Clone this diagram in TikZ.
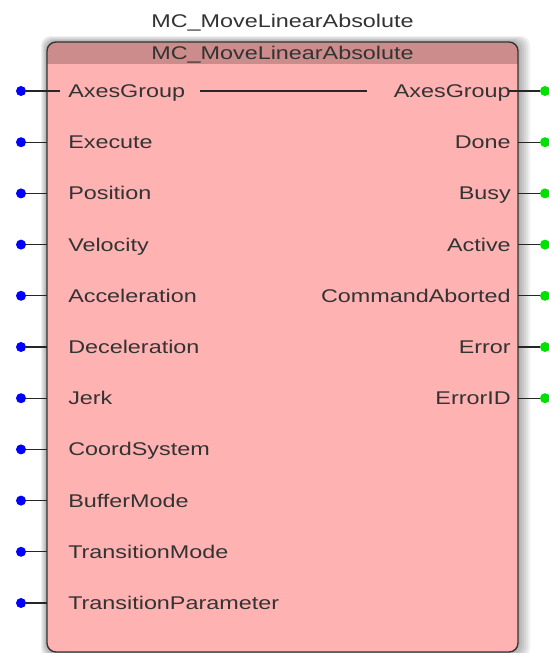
\documentclass[tikz,border=0pt]{standalone}
\usepackage{fontspec}
\setmainfont{Liberation Sans}[FakeStretch=1.27]
\definecolor{fbbody}{RGB}{255,178,178}
\definecolor{fbhead}{RGB}{204,140,140}
\definecolor{pingreen}{RGB}{0,225,0}
\begin{document}
\begin{tikzpicture}[x=0.75pt, y=-0.75pt,
    wire/.style={line width=0.9pt, black!85},
    indot/.style={circle, fill=blue, inner sep=0pt, minimum size=7.5pt},
    outdot/.style={circle, fill=pingreen, inner sep=0pt, minimum size=7.5pt},
    pinlabel/.style={inner sep=0pt, text=black!80, font=\fontsize{13.8}{16}\selectfont}]
    \useasboundingbox (0,0) rectangle (549,653);
    \foreach \k in {1,...,6}
        \fill[black, opacity=0.06, rounded corners=7pt] (47-\k,42-\k) rectangle (518+2*\k,652+\k);
    \begin{scope}
        \clip[rounded corners=6.75pt] (47,42) rectangle (518,652);
        \fill[fbbody] (47,42) rectangle (518,652);
        \fill[fbhead] (47,42) rectangle (518,64);
    \end{scope}
    \draw[line width=1pt, black!80, rounded corners=6.75pt] (47,42) rectangle (518,652);
    \node[pinlabel, anchor=base] (title) at (282.5,27) {MC\_MoveLinearAbsolute};
    \node[pinlabel, anchor=base] (header) at (282.5,59) {MC\_MoveLinearAbsolute};
    \foreach \name [count=\i from 0] in {AxesGroup, Execute, Position, Velocity, Acceleration,
            Deceleration, Jerk, CoordSystem, BufferMode, TransitionMode, TransitionParameter} {
        \node[indot] (in\i) at (21,{91+51.2*\i}) {};
        \coordinate (inedge\i) at (47,{91+51.2*\i});
        \draw[wire] (in\i) -- (inedge\i);
        \node[pinlabel, anchor=base west] (inlabel\i) at (68,{97.5+51.2*\i}) {\name};
    }
    \foreach \name [count=\i from 0] in {AxesGroup, Done, Busy, Active, CommandAborted, Error, ErrorID} {
        \node[outdot] (out\i) at (545,{91+51.2*\i}) {};
        \coordinate (outedge\i) at (518,{91+51.2*\i});
        \draw[wire] (outedge\i) -- (out\i);
        \node[pinlabel, anchor=base east] (outlabel\i) at (511,{97.5+51.2*\i}) {\name};
    }
    \coordinate (instub) at (60,91);
    \coordinate (outstub) at (509,91);
    \coordinate (thruL) at (200,91);
    \coordinate (thruR) at (367,91);
    \draw[wire] (inedge0) -- (instub);
    \draw[wire] (outstub) -- (outedge0);
    \draw[wire] (thruL) -- (thruR);
\end{tikzpicture}
\end{document}
